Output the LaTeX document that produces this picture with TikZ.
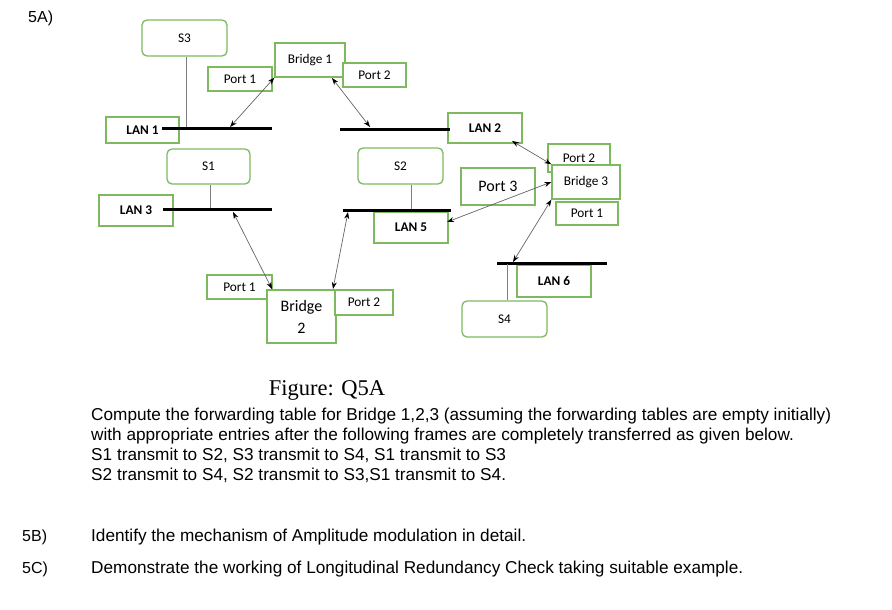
\documentclass[tikz,border=0pt]{standalone}
\usepackage{fontspec}
\setmainfont{Liberation Sans}
\newfontfamily\calib{Carlito}
\newfontfamily\timesf{Liberation Serif}
\usetikzlibrary{arrows.meta}
\definecolor{boxgreen}{RGB}{125,185,95}
\definecolor{congray}{RGB}{100,100,100}
\begin{document}
\begin{tikzpicture}[x=1pt,y=-1pt,
  box/.style={draw=boxgreen, line width=1.3pt, fill=white, inner sep=0pt,
    font=\calib\fontsize{13.3}{15}\selectfont},
  rbox/.style={box, rounded corners=5pt},
  lanbox/.style={box, font=\calib\bfseries\fontsize{13.3}{15}\selectfont},
  bus/.style={line width=3pt, black},
  drop/.style={draw=gray, line width=0.8pt},
  con/.style={draw=congray, line width=0.7pt,
    {Stealth[black,length=7pt,width=5pt]}-{Stealth[black,length=7pt,width=5pt]}},
  body/.style={anchor=base west, inner sep=0pt, font=\fontsize{17.2}{20}\selectfont},
  num/.style={anchor=base west, inner sep=0pt, font=\fontsize{16}{20}\selectfont}
]
\useasboundingbox (0,0) rectangle (892,610);

% --- boxes ---
\node[rbox, minimum width=85pt, minimum height=36pt] (s3) at (184.5,38) {S3};
\node[lanbox, minimum width=73pt, minimum height=26pt] (lan1) at (142.5,130) {LAN 1};
\node[box, minimum width=64pt, minimum height=24pt] (p1b1) at (240,79) {Port 1};
\node[box, minimum width=70pt, minimum height=34pt] (b1) at (310,60) {Bridge 1};
\node[box, minimum width=63pt, minimum height=24pt] (p2b1) at (374.5,75) {Port 2};
\node[lanbox, minimum width=74pt, minimum height=30pt] (lan2) at (485,128) {LAN 2};
\node[box, minimum width=62pt, minimum height=28pt] (p2b3) at (579,158) {Port 2};
\node[box, minimum width=68pt, minimum height=34pt] (b3) at (586,182) {Bridge 3};
\node[box, minimum width=62pt, minimum height=23pt] (p1b3) at (587,213.5) {Port 1};
\node[box, minimum width=74pt, minimum height=37pt, font=\calib\fontsize{16}{18}\selectfont] (p3b3) at (498,186.5) {Port 3};
\node[rbox, minimum width=83pt, minimum height=35pt] (s1) at (208.5,166.5) {S1};
\node[lanbox, minimum width=74pt, minimum height=31pt] (lan3) at (136,210.5) {LAN 3};
\node[rbox, minimum width=85pt, minimum height=36pt] (s2) at (400.5,166) {S2};
\node[lanbox, minimum width=74pt, minimum height=31pt] (lan5) at (411,227.5) {LAN 5};
\node[box, minimum width=65pt, minimum height=24pt] (p1b2) at (239.5,287) {Port 1};
\node[box, line width=2pt, minimum width=69pt, minimum height=53pt, align=center,
  font=\calib\fontsize{16}{22}\selectfont] (b2) at (301.5,316.5) {Bridge\\2};
\node[box, minimum width=58pt, minimum height=25pt] (p2b2) at (364,302.5) {Port 2};
\node[lanbox, minimum width=74pt, minimum height=32pt] (lan6) at (554,281) {LAN 6};
\node[rbox, minimum width=85pt, minimum height=36pt] (s4) at (504.5,319) {S4};

% --- bus lines ---
\coordinate (l1a) at (162,128); \coordinate (l1b) at (272,128);
\coordinate (l2a) at (340,129); \coordinate (l2b) at (450,129);
\coordinate (l3a) at (163,209); \coordinate (l3b) at (272,209);
\coordinate (l5a) at (343,210); \coordinate (l5b) at (451,210);
\coordinate (l6a) at (497,263); \coordinate (l6b) at (607,263);
\draw[bus] (l1a) -- (l1b);
\draw[bus] (l2a) -- (l2b);
\draw[bus] (l3a) -- (l3b);
\draw[bus] (l5a) -- (l5b);
\draw[bus] (l6a) -- (l6b);

% --- station drops ---
\coordinate (d3) at (186,127);
\coordinate (d1) at (210,208);
\coordinate (d2) at (411,209);
\coordinate (d4) at (507,264);
\draw[drop] (s3.south -| d3) -- (d3);
\draw[drop] (s1.south -| d1) -- (d1);
\draw[drop] (s2.south -| d2) -- (d2);
\draw[drop] (s4.north -| d4) -- (d4);

% --- bridge connections ---
\coordinate (c1) at (230,127);
\coordinate (b1p2) at (332,78);
\coordinate (c2) at (370,127);
\coordinate (lan2p) at (512,141);
\coordinate (lan5p) at (447,222);
\coordinate (c6) at (513,262);
\coordinate (c3) at (233,212);
\coordinate (b2p1) at (272,289);
\coordinate (c5) at (348,212);
\coordinate (b2p2) at (333,289);
\draw[con] (b1.south west) -- (c1);
\draw[con] (b1p2) -- (c2);
\draw[con] (lan2p) -- (b3.north west);
\draw[con] (b3.west) -- (lan5p);
\draw[con] (b3.south west) -- (c6);
\draw[con] (c3) -- (b2p1);
\draw[con] (c5) -- (b2p2);

% --- texts ---
\node[num] (t5a) at (28,23) {5A)};
\node[anchor=base, inner sep=0pt, font=\timesf\fontsize{22.5}{26}\selectfont] (fig) at (327,395.5) {Figure: Q5A};
\node[body] (q1) at (91,420) {Compute the forwarding table for Bridge 1,2,3 (assuming the forwarding tables are empty initially)};
\node[body] (q2) at (91,440) {with appropriate entries after the following frames are completely transferred as given below.};
\node[body] (q3) at (91,460) {S1 transmit to S2, S3 transmit to S4, S1 transmit to S3};
\node[body] (q4) at (91,480) {S2 transmit to S4, S2 transmit to S3,S1 transmit to S4.};
\node[num] (t5b) at (22,541) {5B)};
\node[body] (q5) at (91,541) {Identify the mechanism of Amplitude modulation in detail.};
\node[num] (t5c) at (22,573) {5C)};
\node[body] (q6) at (91,573) {Demonstrate the working of Longitudinal Redundancy Check taking suitable example.};
\end{tikzpicture}
\end{document}
